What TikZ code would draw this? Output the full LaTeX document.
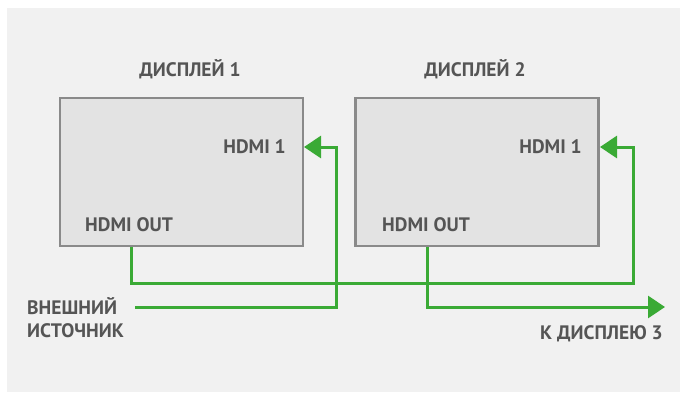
\documentclass[tikz,border=0pt]{standalone}
\usepackage{fontspec}
\setmainfont{PT Sans}
\usetikzlibrary{arrows.meta}
\definecolor{bggray}{HTML}{F1F1F1}
\definecolor{boxfill}{HTML}{E3E3E3}
\definecolor{boxline}{HTML}{8A8A8A}
\definecolor{txt}{HTML}{555555}
\definecolor{grn}{HTML}{3AAA35}
\tikzset{
  display/.style={draw=boxline, line width=2.6pt, fill=boxfill, minimum width=243pt, minimum height=148pt, inner sep=0pt},
  lbl/.style={font=\fontsize{19.5}{23}\selectfont\bfseries, text=txt, inner sep=0pt},
  wire/.style={draw=grn, line width=3pt},
  wirearrow/.style={wire, -{Triangle[length=17pt,width=22pt]}}
}
\begin{document}
\begin{tikzpicture}[x=1pt,y=-1pt]
\useasboundingbox (0,0) rectangle (680,392);
\fill[white] (0,0) rectangle (680,392);
\fill[bggray] (7,8) rectangle (680,392);
% displays
\node[display] (d1) at (181.5,172) {};
\node[display] (d2) at (477,172) {};
\node[lbl, anchor=base] (t1) at (190,76) {ДИСПЛЕЙ 1};
\node[lbl, anchor=base] (t2) at (475,76) {ДИСПЛЕЙ 2};
\node[lbl, anchor=base east] (h1) at (286,153) {HDMI 1};
\node[lbl, anchor=base east] (h2) at (582,153) {HDMI 1};
\node[lbl, anchor=base west] (o1) at (85,231.5) {HDMI OUT};
\node[lbl, anchor=base west] (o2) at (382,231.5) {HDMI OUT};
\node[lbl, anchor=base west] (s1) at (27,314) {ВНЕШНИЙ};
\node[lbl, anchor=base west] (s2) at (27,337.5) {ИСТОЧНИК};
\node[lbl, anchor=base east] (k3) at (663,339.5) {К ДИСПЛЕЮ 3};
% ports
\coordinate (in1) at (304,147);
\coordinate (in2) at (600,147);
\coordinate (out1) at (131,247);
\coordinate (out2) at (427,247);
\coordinate (src) at (135,307);
\coordinate (to3) at (665,307);
% wires
\draw[wirearrow] (src) -| (336,147) -- (in1);
\draw[wirearrow] (out1) |- (633,283) |- (in2);
\draw[wirearrow] (out2) |- (to3);
\end{tikzpicture}
\end{document}
